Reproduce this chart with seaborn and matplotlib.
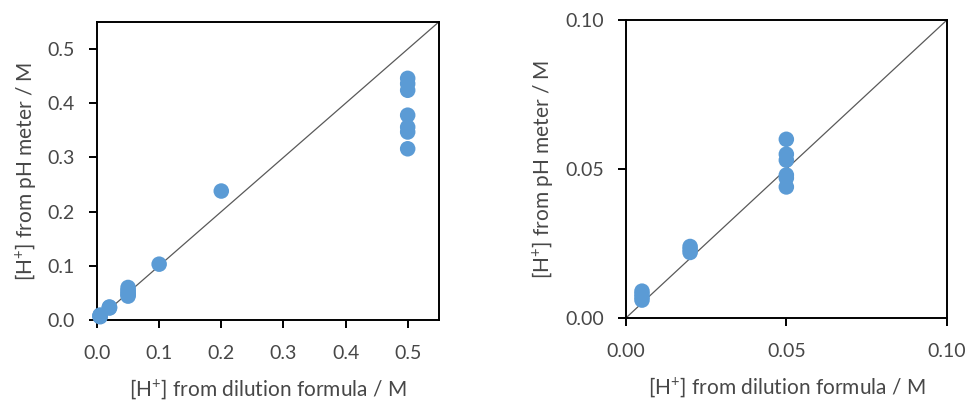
import matplotlib
matplotlib.use("Agg")
import matplotlib.pyplot as plt
import seaborn as sns
import pandas as pd
from matplotlib.ticker import FormatStrFormatter

# Data
dilution = [0.005, 0.005, 0.005, 0.005,
            0.02, 0.02, 0.02,
            0.05, 0.05, 0.05, 0.05, 0.05, 0.05,
            0.1, 0.2,
            0.5, 0.5, 0.5, 0.5, 0.5, 0.5, 0.5]
ph_meter = [0.006, 0.007, 0.008, 0.009,
            0.022, 0.023, 0.024,
            0.044, 0.047, 0.048, 0.053, 0.055, 0.060,
            0.103, 0.238,
            0.316, 0.347, 0.356, 0.378, 0.424, 0.436, 0.446]

left_ticks = [0.0, 0.1, 0.2, 0.3, 0.4, 0.5]
right_ticks = [0.00, 0.05, 0.10]
left_lim = 0.55
right_lim = 0.10

xlabel = r"[H$^{+}$] from dilution formula / M"
ylabel = r"[H$^{+}$] from pH meter / M"

sns.set_theme(style="white")
plt.rcParams["font.family"] = ["Lato", "DejaVu Sans"]
plt.rcParams["mathtext.default"] = "regular"

df = pd.DataFrame({"dilution": dilution, "ph": ph_meter})
color = "#5B9BD5"
text_color = "#474747"

fig = plt.figure(figsize=(9.75, 4.04), dpi=100)
ax1 = fig.add_axes([0.0995, 0.208, 0.3505, 0.7375])
ax2 = fig.add_axes([0.642, 0.213, 0.329, 0.737])

for ax, lim, ticks, fmt, clip in [(ax1, left_lim, left_ticks, "%.1f", False),
                                  (ax2, right_lim, right_ticks, "%.2f", True)]:
    ax.axline((0, 0), slope=1, color="#595959", lw=0.9, zorder=1)
    sns.scatterplot(data=df, x="dilution", y="ph", ax=ax, color=color,
                    s=125, edgecolor="none", linewidth=0, zorder=3,
                    clip_on=clip)
    ax.set_xlim(0, lim)
    ax.set_ylim(0, lim)
    ax.set_xticks(ticks)
    ax.set_yticks(ticks)
    ax.xaxis.set_major_formatter(FormatStrFormatter(fmt))
    ax.yaxis.set_major_formatter(FormatStrFormatter(fmt))
    for sp in ax.spines.values():
        sp.set_visible(True)
        sp.set_color("black")
        sp.set_linewidth(1.4)
    ax.tick_params(axis="both", direction="out", length=6, width=1.4,
                   color="black", labelsize=14, labelcolor=text_color,
                   bottom=True, left=True)
    ax.tick_params(axis="x", pad=12)
    ax.tick_params(axis="y", pad=10)
    ax.set_xlabel(xlabel, fontsize=15, color=text_color, labelpad=11)
    ax.set_ylabel(ylabel, fontsize=15, color=text_color, labelpad=7)
    ax.set_facecolor("white")

fig.savefig("out.png", dpi=100, facecolor="white")
